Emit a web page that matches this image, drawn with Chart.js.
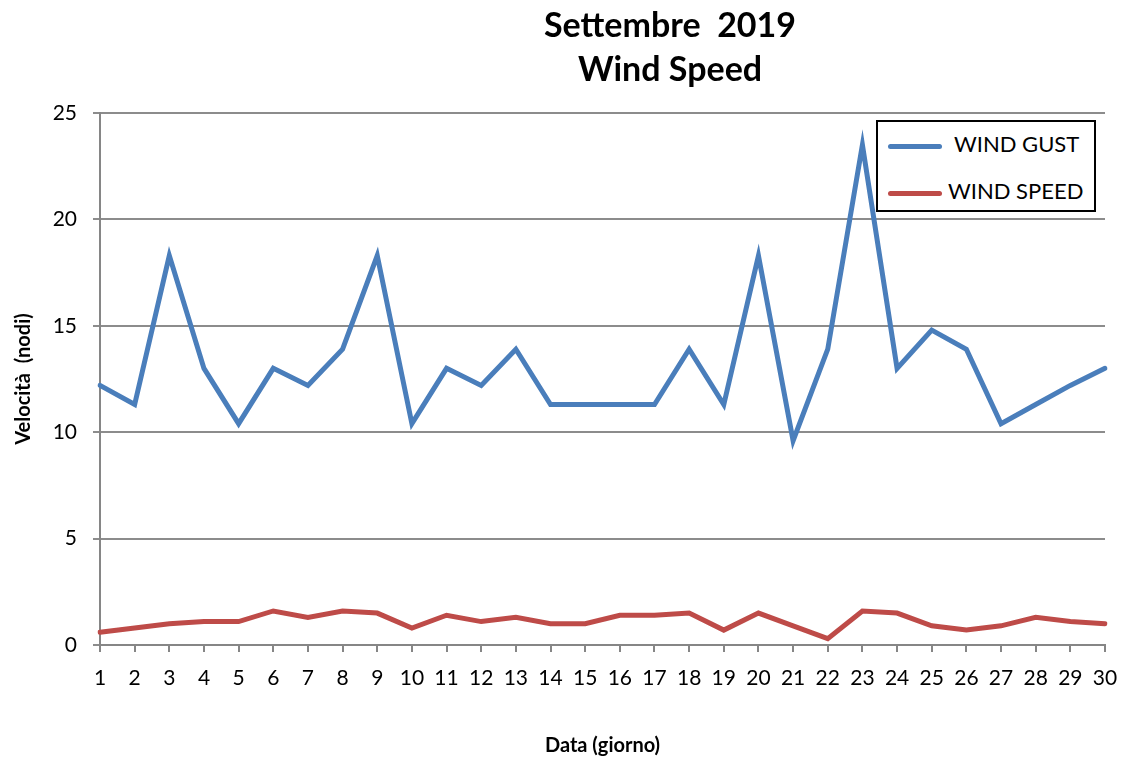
<!DOCTYPE html>
<html lang="it">

<head>
    <meta charset="UTF-8">
    <title>Settembre 2019 - Wind Speed</title>
    <style>
        body {
            margin: 0;
            padding: 0;
            background-color: #fff;
            font-family: Lato, "Open Sans", sans-serif;
        }

        .wrap {
            position: relative;
            width: 1122px;
            height: 758px;
        }

        .legend {
            position: absolute;
            left: 876px;
            top: 120px;
            width: 216px;
            height: 88px;
            border: 2px solid #000;
            background: #fff;
            font-size: 22px;
            color: #000;
        }

        .legend div {
            position: absolute;
            left: 10px;
            height: 26px;
            line-height: 26px;
            white-space: nowrap;
        }

        .legend span.sw {
            display: inline-block;
            width: 54px;
            height: 5px;
            border-radius: 3px;
            vertical-align: middle;
        }
    </style>
</head>

<body>
    <div class="wrap">
        <canvas id="windChart" width="1122" height="758"></canvas>
        <div class="legend" id="legend"></div>
    </div>

    <script src="https://cdn.jsdelivr.net/npm/chart.js"></script>
    <script>
        const days = ["1", "2", "3", "4", "5", "6", "7", "8", "9", "10",
            "11", "12", "13", "14", "15", "16", "17", "18", "19", "20",
            "21", "22", "23", "24", "25", "26", "27", "28", "29", "30"];

        const windGust = [12.2, 11.3, 18.3, 13.0, 10.4, 13.0, 12.2, 13.9, 18.3, 10.4,
            13.0, 12.2, 13.9, 11.3, 11.3, 11.3, 11.3, 13.9, 11.3, 18.3,
            9.6, 13.9, 23.5, 13.0, 14.8, 13.9, 10.4, 11.3, 12.2, 13.0];

        const windSpeed = [0.6, 0.8, 1.0, 1.1, 1.1, 1.6, 1.3, 1.6, 1.5, 0.8,
            1.4, 1.1, 1.3, 1.0, 1.0, 1.4, 1.4, 1.5, 0.7, 1.5,
            0.9, 0.3, 1.6, 1.5, 0.9, 0.7, 0.9, 1.3, 1.1, 1.0];

        const titleLines = ["Settembre  2019", "Wind Speed"];

        // title drawn over the whole chart, centred a bit right like the original
        const titlePlugin = {
            id: "bigTitle",
            afterDraw(chart) {
                const ctx = chart.ctx;
                ctx.save();
                ctx.fillStyle = "#000";
                ctx.font = "bold 34px Lato, 'Open Sans', sans-serif";
                ctx.textAlign = "center";
                ctx.textBaseline = "middle";
                ctx.fillText(titleLines[0], 670, 26);
                ctx.fillText(titleLines[1], 670, 70);
                ctx.restore();
            }
        };

        const ctx = document.getElementById("windChart").getContext("2d");

        const chart = new Chart(ctx, {
            type: "line",
            data: {
                labels: days,
                datasets: [{
                    label: "WIND GUST",
                    data: windGust,
                    borderColor: "#4a7ebb",
                    borderWidth: 5,
                    borderCapStyle: "round",
                    pointRadius: 0,
                    tension: 0,
                    fill: false
                }, {
                    label: "WIND SPEED",
                    data: windSpeed,
                    borderColor: "#be4b48",
                    borderWidth: 5,
                    borderCapStyle: "round",
                    pointRadius: 0,
                    tension: 0,
                    fill: false
                }]
            },
            options: {
                responsive: false,
                animation: false,
                layout: {
                    padding: { top: 113, right: 17, left: 0, bottom: 0 }
                },
                plugins: {
                    legend: { display: false },
                    tooltip: { enabled: false }
                },
                scales: {
                    x: {
                        offset: false,
                        grid: {
                            drawOnChartArea: false,
                            tickLength: 7,
                            color: "#868686",
                            lineWidth: 2
                        },
                        border: { color: "#868686", width: 2 },
                        ticks: {
                            color: "#000",
                            padding: 14,
                            maxRotation: 0,
                            autoSkip: false,
                            font: { family: "Lato", size: 21 }
                        },
                        title: {
                            display: true,
                            text: "Data (giorno)",
                            color: "#000",
                            font: { family: "Lato", size: 20, weight: "bold" },
                            padding: { top: 30, bottom: 0 }
                        },
                        afterFit(scale) {
                            scale.height = 113;
                            scale.paddingLeft = 0;
                            scale.paddingRight = 0;
                        }
                    },
                    y: {
                        min: 0,
                        max: 25,
                        ticks: {
                            stepSize: 5,
                            color: "#000",
                            padding: 16,
                            font: { family: "Lato", size: 21 }
                        },
                        grid: {
                            color: "#8c8c8c",
                            lineWidth: 2,
                            tickLength: 7
                        },
                        border: { color: "#868686", width: 2 },
                        title: {
                            display: true,
                            text: "Velocità  (nodi)",
                            color: "#000",
                            font: { family: "Lato", size: 20, weight: "bold" },
                            padding: { top: 12, bottom: 0 }
                        },
                        afterFit(scale) {
                            scale.width = 100;
                        }
                    }
                }
            },
            plugins: [titlePlugin]
        });

        // legend box inside the plot, like the Excel one
        const legend = document.getElementById("legend");
        chart.data.datasets.forEach((ds, i) => {
            const row = document.createElement("div");
            row.style.top = (i === 0 ? 9 : 56) + "px";
            const gap = i === 0 ? 12 : 6;
            row.innerHTML = '<span class="sw" style="background:' + ds.borderColor +
                ';margin-right:' + gap + 'px"></span>' + ds.label;
            legend.appendChild(row);
        });
    </script>
</body>

</html>
